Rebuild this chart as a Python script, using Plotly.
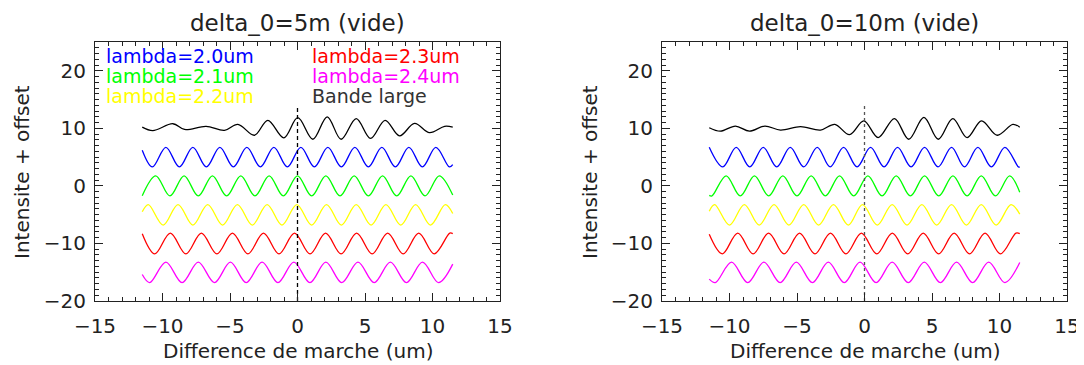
import plotly.graph_objects as go

# The page body has an 8 px default margin (top/left): figure fills the rest of the 1084 x 365 window
OFF = 8
W, H = 1084 - OFF, 365 - OFF
FONT = "DejaVu Sans"
TXT = "#222222"

# ---------------- data ----------------
x_start, x_end = -11.5, 11.5

# (peak value, trough value) for each lambda curve
levels = {
    "blue": (6.7, 3.3),
    "green": (1.75, -1.75),
    "yellow": (-3.25, -6.8),
    "red": (-8.2, -11.8),
    "magenta": (-13.25, -16.8),
}

# ---- left panel : delta_0 = 5 m ----
L_blue_peaks = [-9.75, -7.75, -5.75, -3.75, -1.75, 0.25, 2.25, 4.25, 6.25, 8.25, 10.25]
L_blue_troughs = [-10.75, -8.75, -6.75, -4.75, -2.75, -0.75, 1.25, 3.25, 5.25, 7.25, 9.25, 11.25]
L_blue_ends = [6.2, 3.7]

L_green_peaks = [-10.5, -8.4, -6.3, -4.2, -2.1, 0.0, 2.1, 4.2, 6.3, 8.4, 10.5]
L_green_troughs = [-9.45, -7.35, -5.25, -3.15, -1.05, 1.05, 3.15, 5.25, 7.35, 9.45]
L_green_ends = [-1.7, -1.6]

L_yellow_peaks = [-11.05, -8.85, -6.65, -4.45, -2.25, -0.05, 2.15, 4.35, 6.55, 8.75, 10.95]
L_yellow_troughs = [-9.95, -7.75, -5.55, -3.35, -1.15, 1.05, 3.25, 5.45, 7.65, 9.85]
L_yellow_ends = [-4.5, -4.8]

L_red_peaks = [-9.42, -7.12, -4.82, -2.52, -0.22, 2.08, 4.38, 6.68, 8.98, 11.28]
L_red_troughs = [-10.57, -8.27, -5.97, -3.67, -1.37, 0.93, 3.23, 5.53, 7.83, 10.13]
L_red_ends = [-8.3, -8.3]

L_magenta_peaks = [-9.75, -7.35, -4.97, -2.62, -0.27, 2.1, 4.48, 6.88, 9.26]
L_magenta_troughs = [-10.95, -8.55, -6.15, -3.8, -1.45, 0.92, 3.28, 5.68, 8.07, 10.45]
L_magenta_ends = [-15.4, -13.6]

L_black_x = [-11.5, -10.72, -9.23, -8.37, -6.77, -5.41, -4.42, -3.19, -2.20, -1.01, 0.02,
             1.14, 2.20, 3.23, 4.35, 5.41, 6.49, 7.56, 8.67, 9.78, 10.9, 11.5]
L_black_y = [10.2, 9.6, 10.8, 9.8, 10.35, 9.65, 10.7, 8.8, 11.4, 8.35, 11.85,
             8.1, 12.0, 8.1, 11.7, 8.25, 11.4, 8.7, 10.85, 9.25, 10.35, 10.2]

# ---- right panel : delta_0 = 10 m ----
R_blue_peaks = [-9.5, -7.5, -5.5, -3.5, -1.55, 0.45, 2.45, 4.45, 6.45, 8.4, 10.4]
R_blue_troughs = [-10.5, -8.5, -6.5, -4.5, -2.55, -0.55, 1.45, 3.45, 5.45, 7.4, 9.4, 11.4]
R_blue_ends = [6.7, 3.3]

R_green_peaks = [-10.25, -8.15, -6.05, -3.95, -1.85, 0.25, 2.35, 4.45, 6.55, 8.65, 10.75]
R_green_troughs = [-11.3, -9.2, -7.1, -5.0, -2.9, -0.8, 1.3, 3.4, 5.5, 7.6, 9.7]
R_green_ends = [-1.65, -1.1]

R_yellow_peaks = [-11.1, -8.9, -6.7, -4.5, -2.3, -0.15, 2.05, 4.25, 6.45, 8.65, 10.85]
R_yellow_troughs = [-10.0, -7.8, -5.6, -3.4, -1.2, 0.95, 3.15, 5.35, 7.55, 9.75]
R_yellow_ends = [-4.4, -4.9]

R_red_peaks = [-9.39, -7.1, -4.81, -2.52, -0.23, 2.06, 4.35, 6.64, 8.93, 11.22]
R_red_troughs = [-10.53, -8.25, -5.96, -3.67, -1.38, 0.91, 3.2, 5.49, 7.78, 10.07]
R_red_ends = [-8.4, -8.3]

R_magenta_peaks = [-9.85, -7.45, -5.05, -2.68, -0.33, 2.05, 4.43, 6.82, 9.2]
R_magenta_troughs = [-11.05, -8.65, -6.25, -3.86, -1.5, 0.86, 3.24, 5.62, 8.01, 10.4]
R_magenta_ends = [-16.2, -13.3]

R_black_x = [-11.5, -10.67, -9.56, -8.52, -7.38, -6.22, -4.74, -3.26, -2.2, -1.11, -0.05,
             1.01, 2.22, 3.28, 4.4, 5.46, 6.54, 7.6, 8.67, 9.83, 10.99, 11.5]
R_black_y = [10.1, 9.5, 10.4, 9.5, 10.4, 9.7, 10.3, 9.7, 10.7, 8.9, 11.3,
             8.4, 11.7, 8.1, 11.9, 8.1, 11.7, 8.4, 11.3, 8.8, 10.7, 10.2]

zero_x = [0, 0]
zero_y = [-20, 14]

titles = ["delta_0=5m (vide)", "delta_0=10m (vide)"]
x_title = "Difference de marche (um)"
y_title = "Intensite + offset"
legend_labels = ["lambda=2.0um", "lambda=2.1um", "lambda=2.2um",
                 "lambda=2.3um", "lambda=2.4um", "Bande large"]

colors = {"blue": "#0000ff", "green": "#00ff00", "yellow": "#ffff00",
          "red": "#ff0000", "magenta": "#ff00ff", "black": "#000000"}

# ---------------- build ----------------
def curve(peaks, troughs, ends, hi, lo):
    pts = [(x_start, ends[0])] + [(p, hi) for p in peaks] + [(t, lo) for t in troughs] + [(x_end, ends[1])]
    pts.sort(key=lambda q: q[0])
    return [q[0] for q in pts], [q[1] for q in pts]

panels = {
    "L": {"blue": (L_blue_peaks, L_blue_troughs, L_blue_ends),
          "green": (L_green_peaks, L_green_troughs, L_green_ends),
          "yellow": (L_yellow_peaks, L_yellow_troughs, L_yellow_ends),
          "red": (L_red_peaks, L_red_troughs, L_red_ends),
          "magenta": (L_magenta_peaks, L_magenta_troughs, L_magenta_ends),
          "black": (L_black_x, L_black_y)},
    "R": {"blue": (R_blue_peaks, R_blue_troughs, R_blue_ends),
          "green": (R_green_peaks, R_green_troughs, R_green_ends),
          "yellow": (R_yellow_peaks, R_yellow_troughs, R_yellow_ends),
          "red": (R_red_peaks, R_red_troughs, R_red_ends),
          "magenta": (R_magenta_peaks, R_magenta_troughs, R_magenta_ends),
          "black": (R_black_x, R_black_y)},
}

fig = go.Figure()
for key, xa, ya in [("L", "x", "y"), ("R", "x2", "y2")]:
    p = panels[key]
    fig.add_trace(go.Scatter(x=p["black"][0], y=p["black"][1], mode="lines",
                             line=dict(color=colors["black"], width=1.3, shape="spline", smoothing=1.0),
                             xaxis=xa, yaxis=ya, showlegend=False, hoverinfo="skip"))
    for c in ["blue", "green", "yellow", "red", "magenta"]:
        hi, lo = levels[c]
        xs, ys = curve(*p[c], hi, lo)
        fig.add_trace(go.Scatter(x=xs, y=ys, mode="lines",
                                 line=dict(color=colors[c], width=1.3, shape="spline", smoothing=1.0),
                                 xaxis=xa, yaxis=ya, showlegend=False, hoverinfo="skip"))
    dash_col = "#000000" if key == "L" else "#555555"
    dash_pat = "4px,3px" if key == "L" else "3px,3px"
    fig.add_trace(go.Scatter(x=zero_x, y=zero_y, mode="lines",
                             line=dict(color=dash_col, width=1.3, dash=dash_pat),
                             xaxis=xa, yaxis=ya, showlegend=False, hoverinfo="skip"))

axcol = "#222222"
def xax(domain, anchor):
    return dict(domain=domain, anchor=anchor, range=[-15, 15], dtick=5, tick0=0,
                showline=True, linecolor=axcol, linewidth=1.2, mirror="allticks",
                ticks="inside", ticklen=8, tickwidth=1.2, tickcolor=axcol,
                showgrid=False, zeroline=False, ticklabelstandoff=7, automargin=False,
                tickfont=dict(family=FONT, size=20, color=TXT),
                minor=dict(ticks="inside", ticklen=4, dtick=1, tickcolor=axcol, tickwidth=1, showgrid=False))

def yax(domain, anchor):
    return dict(domain=domain, anchor=anchor, range=[-20, 25], dtick=10, tick0=0,
                showline=True, linecolor=axcol, linewidth=1.2, mirror="allticks",
                ticks="inside", ticklen=8, tickwidth=1.2, tickcolor=axcol,
                showgrid=False, zeroline=False, ticklabelstandoff=4, automargin=False,
                tickfont=dict(family=FONT, size=20, color=TXT),
                minor=dict(ticks="inside", ticklen=4, dtick=1, tickcolor=axcol, tickwidth=1, showgrid=False))

def px(x):  # screen x -> paper
    return (x - OFF) / W

def py(y):  # screen y -> paper
    return 1 - (y - OFF) / H

yd = [py(301), py(42)]
fig.update_layout(
    width=W, height=H, margin=dict(l=0, r=0, t=0, b=0),
    paper_bgcolor="white", plot_bgcolor="white",
    xaxis=xax([px(95), px(500)], "y"),
    yaxis=yax(yd, "x"),
    xaxis2=xax([px(662), px(1067)], "y2"),
    yaxis2=yax(yd, "x2"),
)

ann = []
for cx, t in [(297.5, titles[0]), (864.5, titles[1])]:
    ann.append(dict(x=px(cx), y=py(23), xref="paper", yref="paper", text=t, showarrow=False,
                    xanchor="center", yanchor="middle", font=dict(family=FONT, size=23, color=TXT)))
    ann.append(dict(x=px(cx), y=py(351), xref="paper", yref="paper", text=x_title, showarrow=False,
                    xanchor="center", yanchor="middle", font=dict(family=FONT, size=20, color=TXT)))
for yx in [22, 590]:
    ann.append(dict(x=px(yx), y=py(172), xref="paper", yref="paper", text=y_title, showarrow=False,
                    textangle=-90, xanchor="center", yanchor="middle", font=dict(family=FONT, size=20, color=TXT)))

leg_cols = ["blue", "green", "yellow", "red", "magenta", "#333333"]
leg_x = [-14.3, -14.3, -14.3, 0.95, 0.95, 0.95]
leg_y = [22.6, 19.1, 15.6, 22.6, 19.1, 15.6]
for lab, c, lx, ly in zip(legend_labels, leg_cols, leg_x, leg_y):
    col = colors.get(c, c)
    ann.append(dict(x=lx, y=ly, xref="x", yref="y", text=lab, showarrow=False,
                    xanchor="left", yanchor="middle", font=dict(family=FONT, size=19, color=col)))
fig.update_layout(annotations=ann)

fig.write_html("out.html")
